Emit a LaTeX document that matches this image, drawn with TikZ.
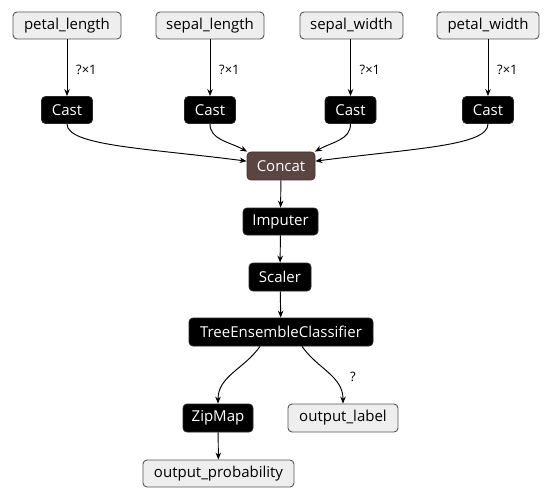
\documentclass[tikz,border=0pt]{standalone}
\usepackage{fontspec}
\setmainfont{Open Sans}
\usetikzlibrary{arrows.meta}
\definecolor{inputfill}{HTML}{EEEEEE}
\definecolor{inputdraw}{HTML}{555555}
\definecolor{concatfill}{HTML}{5A4540}
\tikzset{
  x=1pt,y=1pt,
  iobox/.style={draw=inputdraw,fill=inputfill,rounded corners=4pt,line width=0.9pt,
    minimum height=27pt,inner sep=0pt,font=\fontsize{15}{17}\selectfont,text=black},
  opbox/.style={draw=black!85,fill=black,rounded corners=4pt,line width=0.8pt,
    minimum height=27pt,inner sep=0pt,font=\fontsize{15}{17}\selectfont,text=white},
  catbox/.style={opbox,fill=concatfill,draw=concatfill!70!black},
  edge/.style={draw=black,line width=0.95pt,-{Stealth[length=7pt,width=5.5pt]}},
  elabel/.style={font=\fontsize{13}{15}\selectfont,anchor=west,inner sep=0pt}
}
\begin{document}
\begin{tikzpicture}
\useasboundingbox (0,0) rectangle (548,496);
% inputs
\node[iobox,minimum width=108pt] (pl) at (67,470.5) {petal\_length};
\node[iobox,minimum width=108pt] (sl) at (210,470.5) {sepal\_length};
\node[iobox,minimum width=103pt] (sw) at (351.5,470.5) {sepal\_width};
\node[iobox,minimum width=102pt] (pw) at (488,470.5) {petal\_width};
% casts
\node[opbox,minimum width=51pt] (c1) at (67,386) {Cast};
\node[opbox,minimum width=51pt] (c2) at (210,386) {Cast};
\node[opbox,minimum width=51pt] (c3) at (350.5,386) {Cast};
\node[opbox,minimum width=51pt] (c4) at (488,386) {Cast};
% chain
\node[catbox,minimum width=68pt,minimum height=28pt] (cat) at (281,330) {Concat};
\node[opbox,minimum width=75pt] (imp) at (280.5,274.5) {Imputer};
\node[opbox,minimum width=62pt,minimum height=28pt] (sca) at (280,219) {Scaler};
\node[opbox,minimum width=184pt,minimum height=28pt] (tec) at (281,164) {TreeEnsembleClassifier};
\node[opbox,minimum width=70pt,minimum height=28pt] (zip) at (218,78) {ZipMap};
\node[iobox,minimum width=110pt,minimum height=28pt] (ol) at (343,78) {output\_label};
\node[iobox,minimum width=151pt] (op) at (218.5,22.5) {output\_probability};
% edges inputs -> casts
\draw[edge] (pl) -- (c1);
\draw[edge] (sl) -- (c2);
\draw[edge] (sw.south -| c3) -- (c3);
\draw[edge] (pw) -- (c4);
\node[elabel] (l1) at (76,426) {?×1};
\node[elabel] (l2) at (219,426) {?×1};
\node[elabel] (l3) at (359.5,426) {?×1};
\node[elabel] (l4) at (497,426) {?×1};
% casts -> concat
\draw[edge] (c1.south) .. controls +(0,-22) and +(-100,13) .. (cat.172);
\draw[edge] (c2.south) .. controls +(0,-16) and +(-18,10) .. (cat.157);
\draw[edge] (c3.south) .. controls +(0,-16) and +(18,10) .. (cat.23);
\draw[edge] (c4.south) .. controls +(0,-22) and +(100,13) .. (cat.8);
% chain
\draw[edge] (cat) -- (imp);
\draw[edge] (imp) -- (sca);
\draw[edge] (sca) -- (tec);
\draw[edge] ([xshift=-21pt]tec.south) to[out=-125,in=90] (zip.north);
\draw[edge] ([xshift=21pt]tec.south) to[out=-55,in=90] (ol.north);
\node[elabel] (lq) at (350,119) {?};
\draw[edge] (zip) -- (op);
\end{tikzpicture}
\end{document}
